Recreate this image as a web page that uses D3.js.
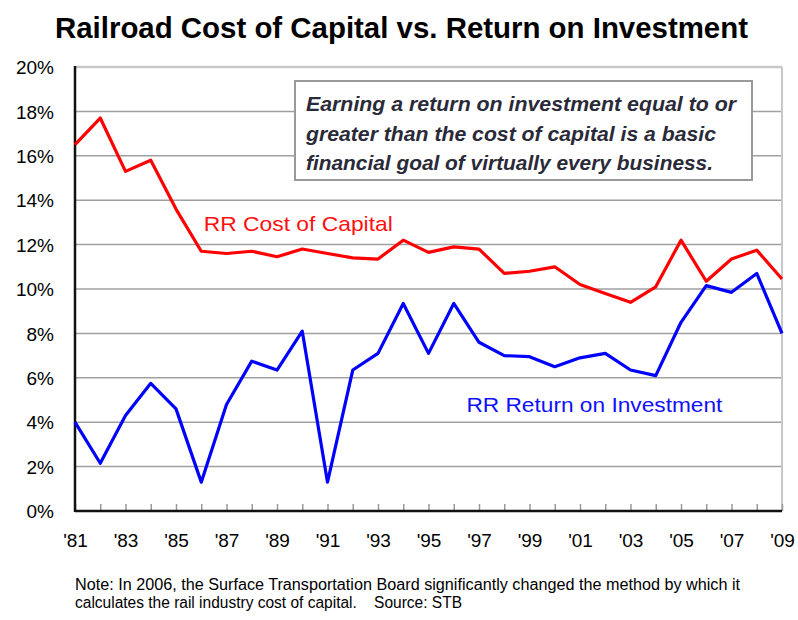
<!DOCTYPE html>
<html lang="en">
<head>
<meta charset="UTF-8">
<title>Railroad Cost of Capital vs. Return on Investment</title>
<style>
    body { margin: 0; background: #fff; }
    text { font-family: Arial, "Liberation Sans", sans-serif; }
    .grid line { stroke: #a0a0a0; stroke-width: 1.5px; }
    .axis path { display: none; }
    .axis text { font-size: 19px; fill: #000; }
    .xaxis line { stroke: #999; stroke-width: 1.5px; }
    .line { fill: none; stroke-width: 3.2px; stroke-linejoin: round; }
    .note { white-space: pre; }
</style>
</head>
<body>
<div id="chart"></div>
<script src="https://d3js.org/d3.v7.min.js"></script>
<script>
    // years 1981..2009
    const years = d3.range(1981, 2010);

    const costOfCapital = [16.5, 17.7, 15.3, 15.8, 13.6, 11.7, 11.6, 11.7, 11.45, 11.8,
                           11.6, 11.4, 11.35, 12.2, 11.65, 11.9, 11.8, 10.7, 10.8, 11.0,
                           10.2, 9.8, 9.4, 10.1, 12.2, 10.35, 11.35, 11.75, 10.45];

    const returnOnInvestment = [4.0, 2.15, 4.3, 5.75, 4.6, 1.3, 4.8, 6.75, 6.35, 8.1,
                                1.3, 6.35, 7.1, 9.35, 7.1, 9.35, 7.6, 7.0, 6.95, 6.5,
                                6.9, 7.1, 6.35, 6.1, 8.5, 10.15, 9.85, 10.7, 8.0];

    const yTicks = [0, 2, 4, 6, 8, 10, 12, 14, 16, 18, 20];
    const xLabelYears = d3.range(1981, 2010, 2);

    const noteLines = [
        "Note: In 2006, the Surface Transportation Board significantly changed the method by which it",
        "calculates the rail industry cost of capital.    Source: STB"
    ];
    const boxLines = [
        "Earning a return on investment equal to or",
        "greater than the cost of capital is a basic",
        "financial goal of virtually every business."
    ];

    const W = 798, H = 620;
    const margin = { top: 67, right: 16, bottom: 109, left: 75 };
    const width = W - margin.left - margin.right,
          height = H - margin.top - margin.bottom;

    const svgRoot = d3.select("#chart").append("svg")
        .attr("width", W)
        .attr("height", H);

    // title
    svgRoot.append("text")
        .attr("x", 55)
        .attr("y", 38)
        .attr("textLength", 693)
        .attr("lengthAdjust", "spacingAndGlyphs")
        .style("font-size", "29px")
        .style("font-weight", "bold")
        .text("Railroad Cost of Capital vs. Return on Investment");

    const svg = svgRoot.append("g")
        .attr("transform", `translate(${margin.left},${margin.top})`);

    const x = d3.scaleLinear().domain([1981, 2009]).range([0, width]);
    const y = d3.scaleLinear().domain([0, 20]).range([height, 0]);

    // gridlines
    svg.append("g")
        .attr("class", "grid")
        .selectAll("line")
        .data(yTicks.filter(d => d > 0 && d < 20))
        .join("line")
        .attr("x1", 0).attr("x2", width)
        .attr("y1", d => y(d)).attr("y2", d => y(d));

    // top and right border (light)
    svg.append("line").attr("x1", 0).attr("x2", width).attr("y1", y(20)).attr("y2", y(20))
        .attr("stroke", "#c8c8c8").attr("stroke-width", 2.5);
    svg.append("line").attr("x1", width).attr("x2", width).attr("y1", y(20)).attr("y2", height)
        .attr("stroke", "#c8c8c8").attr("stroke-width", 2);

    // y axis
    svg.append("g")
        .attr("class", "axis")
        .call(d3.axisLeft(y).tickValues(yTicks).tickSize(0).tickPadding(21).tickFormat(d => d + "%"))
        .selectAll("text").attr("dy", "0.35em");

    // x axis, inward ticks every year, labels every other year
    svg.append("g")
        .attr("class", "axis xaxis")
        .attr("transform", `translate(0,${height})`)
        .call(d3.axisBottom(x).tickValues(years).tickSize(-7).tickPadding(23)
            .tickFormat(d => xLabelYears.includes(d) ? "'" + String(d).slice(2) : ""));

    // axis lines
    svg.append("line").attr("x1", 0).attr("x2", width).attr("y1", height).attr("y2", height)
        .attr("stroke", "#111").attr("stroke-width", 2.5);
    svg.append("line").attr("x1", 0).attr("x2", 0).attr("y1", y(20) - 1).attr("y2", height + 1)
        .attr("stroke", "#111").attr("stroke-width", 2.5);

    // lines
    const line = d3.line().x((d, i) => x(years[i])).y(d => y(d));

    svg.append("path")
        .datum(costOfCapital)
        .attr("class", "line")
        .attr("stroke", "#ff0000")
        .attr("d", line);

    svg.append("path")
        .datum(returnOnInvestment)
        .attr("class", "line")
        .attr("stroke", "#0000ff")
        .attr("d", line);

    // series labels
    svg.append("text")
        .attr("x", x(1986.1))
        .attr("y", y(12.6))
        .attr("textLength", 189)
        .attr("lengthAdjust", "spacingAndGlyphs")
        .style("font-size", "21px")
        .attr("fill", "#ff1010")
        .text("RR Cost of Capital");

    svg.append("text")
        .attr("x", x(1996.5))
        .attr("y", y(4.45))
        .attr("textLength", 256)
        .attr("lengthAdjust", "spacingAndGlyphs")
        .style("font-size", "21px")
        .attr("fill", "#1010ff")
        .text("RR Return on Investment");

    // callout box
    const boxLen = [430, 410, 407];
    const box = svg.append("g").attr("transform", `translate(${295 - margin.left},${81 - margin.top})`);
    box.append("rect")
        .attr("width", 457)
        .attr("height", 99)
        .attr("fill", "#fff")
        .attr("stroke", "#999")
        .attr("stroke-width", 2);
    box.selectAll("text.box")
        .data(boxLines)
        .join("text")
        .attr("class", "box")
        .attr("x", 11)
        .attr("y", (d, i) => 30 + i * 29.5)
        .attr("textLength", (d, i) => boxLen[i])
        .attr("lengthAdjust", "spacingAndGlyphs")
        .style("font-size", "21px")
        .style("font-style", "italic")
        .style("font-weight", "bold")
        .attr("fill", "#2a2a38")
        .text(d => d);

    // footnote
    svgRoot.selectAll("text.note")
        .data(noteLines)
        .join("text")
        .attr("class", "note")
        .attr("x", 75)
        .attr("y", (d, i) => 590 + i * 18)
        .attr("textLength", (d, i) => i === 0 ? 665 : 387)
        .attr("lengthAdjust", "spacingAndGlyphs")
        .style("font-size", "16px")
        .text(d => d);
</script>
</body>
</html>
